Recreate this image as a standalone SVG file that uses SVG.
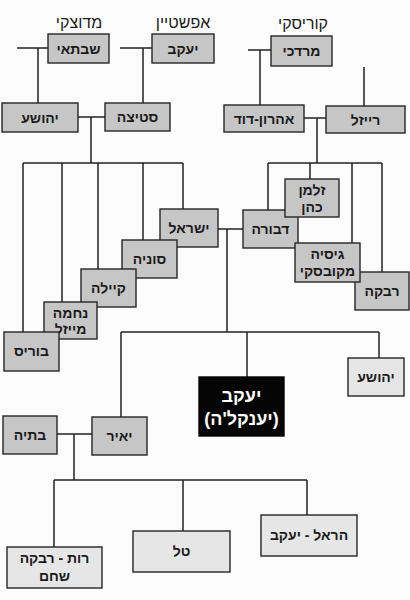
<svg xmlns="http://www.w3.org/2000/svg" width="410" height="600" viewBox="0 0 410 600">
<style>
.bg{fill:#fcfcfc}
.b{fill:#c6c6c6;stroke:#262626;stroke-width:1.4}
.l{fill:#e6e6e6;stroke:#262626;stroke-width:1.4}
.k{fill:#050505;stroke:#050505;stroke-width:1.4}
.t{font-family:"Liberation Sans","DejaVu Sans",sans-serif;font-size:14px;font-weight:bold;fill:#1a1a1a;text-anchor:middle;direction:rtl}
.s{font-family:"Liberation Sans","DejaVu Sans",sans-serif;font-size:16px;fill:#1a1a1a;text-anchor:middle;direction:rtl}
.w{font-family:"Liberation Sans","DejaVu Sans",sans-serif;font-size:18px;font-weight:bold;fill:#ffffff;text-anchor:middle;direction:rtl}
#conn path{fill:none;stroke:#222;stroke-width:1.5}
</style>
<rect class="bg" x="0" y="0" width="410" height="600"/>
<g id="conn">
<path d="M17 48H48M38 48V103"/>
<path d="M120 48H152M143 48V103"/>
<path d="M248 50H271M260 50V105"/>
<path d="M364 67V106"/>
<path d="M78 117H105M91 117V163"/>
<path d="M304 118H326M317 118V163"/>
<path d="M23 163H183M23 163V332M62 163V302M98 163V269M143 163V240M183 163V209"/>
<path d="M268 163H382M268 163V210M310 163V179M352 163V243M382 163V272"/>
<path d="M218 229H243M227 229V332"/>
<path d="M121 332H379M121 332V417M247 332V377M379 332V358"/>
<path d="M57 434H92M74 434V480"/>
<path d="M54 480H307M54 480V547M183 480V531M307 480V515"/>
</g>
<g id="lbl-medutzki"><text class="s" x="79" y="28">מדוצקי</text></g>
<g id="lbl-epstein"><text class="s" x="183" y="28">אפשטיין</text></g>
<g id="lbl-koriski"><text class="s" x="303" y="29">קוריסקי</text></g>
<g id="shabtai"><rect class="b" x="48" y="34" width="61" height="29"/><text class="t" x="78.5" y="53.5">שבתאי</text></g>
<g id="yaakov1"><rect class="b" x="152" y="34" width="62" height="29"/><text class="t" x="183" y="53.5">יעקב</text></g>
<g id="mordechai"><rect class="b" x="271" y="36" width="61" height="30"/><text class="t" x="301.5" y="56">מרדכי</text></g>
<g id="yehoshua1"><rect class="b" x="2" y="103" width="76" height="29"/><text class="t" x="40" y="122.5">יהושע</text></g>
<g id="stitza"><rect class="b" x="105" y="103" width="65" height="28"/><text class="t" x="137.5" y="122">סטיצה</text></g>
<g id="aharon-david"><rect class="b" x="224" y="105" width="80" height="27"/><text class="t" x="264" y="123.5">אהרון-דוד</text></g>
<g id="reizel"><rect class="b" x="326" y="106" width="79" height="27"/><text class="t" x="365.5" y="124.5">רייזל</text></g>
<g id="israel"><rect class="b" x="160" y="209" width="58" height="38"/><text class="t" x="189" y="233">ישראל</text></g>
<g id="sonia"><rect class="b" x="122" y="240" width="55" height="38"/><text class="t" x="149.5" y="264">סוניה</text></g>
<g id="kayla"><rect class="b" x="81" y="269" width="55" height="38"/><text class="t" x="108.5" y="293">קיילה</text></g>
<g id="nechama"><rect class="b" x="44" y="302" width="53" height="37"/><text class="t" x="70.5" y="318">נחמה</text><text class="t" x="70.5" y="334">מייזל</text></g>
<g id="boris"><rect class="b" x="4" y="332" width="55" height="39"/><text class="t" x="31.5" y="356">בוריס</text></g>
<g id="dvora"><rect class="b" x="243" y="210" width="55" height="38"/><text class="t" x="270.5" y="234">דבורה</text></g>
<g id="rivka"><rect class="b" x="355" y="272" width="54" height="38"/><text class="t" x="382" y="296">רבקה</text></g>
<g id="gisia"><rect class="b" x="295" y="243" width="65" height="39"/><text class="t" x="327.5" y="259">גיסיה</text><text class="t" x="327.5" y="276">מקובסקי</text></g>
<g id="zalman"><rect class="b" x="285" y="179" width="54" height="38"/><text class="t" x="312" y="195">זלמן</text><text class="t" x="312" y="212">כהן</text></g>
<g id="yaakov-yankele"><rect class="k" x="199" y="377" width="85" height="59"/><text class="w" x="241.5" y="402">יעקב</text><text class="w" x="241.5" y="425">(יענקל'ה)</text></g>
<g id="yehoshua2"><rect class="l" x="348" y="358" width="56" height="38"/><text class="t" x="376" y="382">יהושע</text></g>
<g id="bitya"><rect class="b" x="3" y="416" width="54" height="38"/><text class="t" x="30" y="440">בתיה</text></g>
<g id="yair"><rect class="b" x="92" y="417" width="55" height="38"/><text class="t" x="119.5" y="441">יאיר</text></g>
<g id="ruth"><rect class="l" x="7" y="547" width="95" height="41"/><text class="t" x="54.5" y="563">רות - רבקה</text><text class="t" x="54.5" y="581">שחם</text></g>
<g id="tal"><rect class="l" x="133" y="531" width="97" height="41"/><text class="t" x="181.5" y="556">טל</text></g>
<g id="harel"><rect class="l" x="261" y="515" width="96" height="41"/><text class="t" x="309" y="540">הראל - יעקב</text></g>
</svg>
